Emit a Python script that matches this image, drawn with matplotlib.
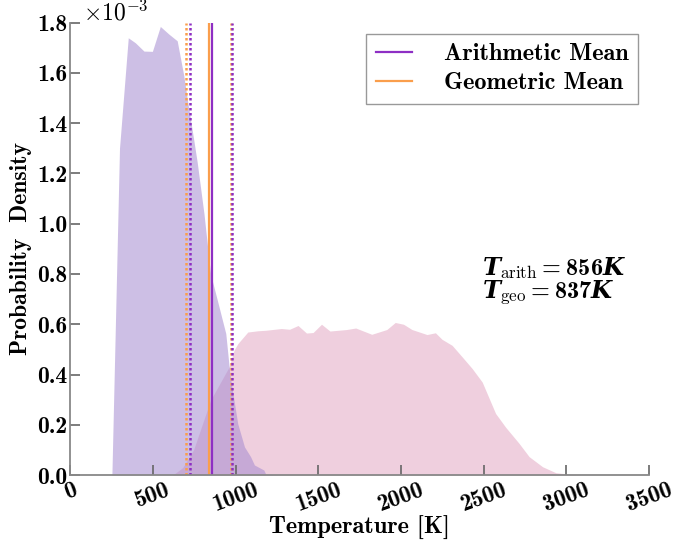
import numpy as np
import matplotlib
matplotlib.use("Agg")
import matplotlib.pyplot as plt

# ---- data ----
arith_T = [251, 297, 350, 393, 445, 496, 544, 595, 646, 686, 710, 747, 767, 808, 848,
           889, 940, 965, 1012, 1053, 1090, 1113, 1170, 1182, 1273]
arith_d = [0, 1.30, 1.74, 1.72, 1.687, 1.686, 1.785, 1.755, 1.728, 1.589, 1.483, 1.33,
           1.245, 1.04, 0.80, 0.695, 0.563, 0.40, 0.205, 0.112, 0.073, 0.04, 0.02, 0.003, 0]
geo_T = [620, 680, 745, 848, 960, 990, 1013, 1073, 1134, 1182, 1276, 1326, 1377, 1428,
         1468, 1519, 1570, 1671, 1726, 1823, 1914, 1965, 2015, 2066, 2157, 2208, 2248,
         2309, 2370, 2430, 2491, 2572, 2633, 2714, 2775, 2856, 2937, 3058, 3100]
geo_d = [0, 0.03, 0.10, 0.298, 0.43, 0.497, 0.523, 0.569, 0.574, 0.576, 0.583, 0.58,
         0.595, 0.565, 0.567, 0.60, 0.573, 0.579, 0.585, 0.56, 0.579, 0.607, 0.60, 0.579,
         0.559, 0.566, 0.54, 0.516, 0.47, 0.424, 0.37, 0.245, 0.19, 0.126, 0.073, 0.033,
         0.009, 0.001, 0]
T_arith = 856
T_geo = 837
arith_bounds = [725, 980]
geo_bounds = [700, 970]
xticks = [0, 500, 1000, 1500, 2000, 2500, 3000, 3500]
yticks = [0.0, 0.2, 0.4, 0.6, 0.8, 1.0, 1.2, 1.4, 1.6, 1.8]
scale = 1e-3

plt.rcParams['mathtext.fontset'] = 'cm'
plt.rcParams['mathtext.rm'] = 'cmb10'
plt.rcParams['mathtext.bf'] = 'cmb10'
plt.rcParams['mathtext.it'] = 'DejaVu Serif:italic:bold'
plt.rcParams['mathtext.sf'] = 'cmr10'
plt.rcParams['font.family'] = ['cmb10', 'DejaVu Serif']
plt.rcParams['axes.unicode_minus'] = False

purple = '#8E2FC4'
orange = '#FA9E4C'
fill_purple = '#A58BD0'
fill_pink = '#E3A9C3'

fig = plt.figure(figsize=(6.95, 5.43), dpi=100)
ax = fig.add_axes([0.1013, 0.1252, 0.8325, 0.8330])

ax.fill_between(np.array(geo_T), np.array(geo_d) * scale, 0, color=fill_pink,
                alpha=0.55, linewidth=0)
ax.fill_between(np.array(arith_T), np.array(arith_d) * scale, 0, color=fill_purple,
                alpha=0.55, linewidth=0)

ax.axvline(T_geo, color=orange, lw=1.6, label='Geometric Mean')
ax.axvline(T_arith, color=purple, lw=1.6, label='Arithmetic Mean')
for b in geo_bounds:
    ax.axvline(b, color=orange, lw=1.8, ls=(0, (1, 1)))
for b in arith_bounds:
    ax.axvline(b, color=purple, lw=1.8, ls=(0, (1, 1)))

ax.set_xlim(0, 3500)
ax.set_ylim(0, 1.8e-3)
ax.set_xticks(xticks)
ax.set_yticks([v * scale for v in yticks])
ax.set_yticklabels([f'{v:.1f}' for v in yticks])
fig.text(83 / 695, 1 - 20 / 543, r'$\times10^{-3}$', fontsize=17, va='baseline',
         ha='left', math_fontfamily='cm')

for s in ['top', 'right']:
    ax.spines[s].set_visible(False)
for s in ['left', 'bottom']:
    ax.spines[s].set_color('#888888')
    ax.spines[s].set_linewidth(1.3)
ax.tick_params(direction='in', length=7, width=1.2, color='#666666', labelsize=17)
ax.tick_params(axis='x', pad=3)
ax.tick_params(axis='y', pad=2)
for lab in ax.get_xticklabels():
    lab.set_rotation(20)
    lab.set_ha('center')

ax.set_xlabel('Temperature [K]', fontsize=17.5, labelpad=0)
ax.set_ylabel('Probability  Density', fontsize=17, labelpad=4)

h, l = ax.get_legend_handles_labels()
leg = ax.legend([h[1], h[0]], [l[1], l[0]], loc='upper right', fontsize=17.5,
                fancybox=False, framealpha=1, edgecolor='#999999',
                handlelength=1.5, handletextpad=1.3, borderpad=0.4,
                labelspacing=0.28, borderaxespad=0.45)
leg.get_frame().set_linewidth(1.0)

ax.text(2490, 0.825e-3, r'$T_{\mathsf{arith}} = 856K$',
        fontsize=17.5, va='center', ha='left', math_fontfamily='custom')
ax.text(2490, 0.725e-3, r'$T_{\mathsf{geo}} = 837K$',
        fontsize=17.5, va='center', ha='left', math_fontfamily='custom')

fig.savefig('out.png', dpi=100)
